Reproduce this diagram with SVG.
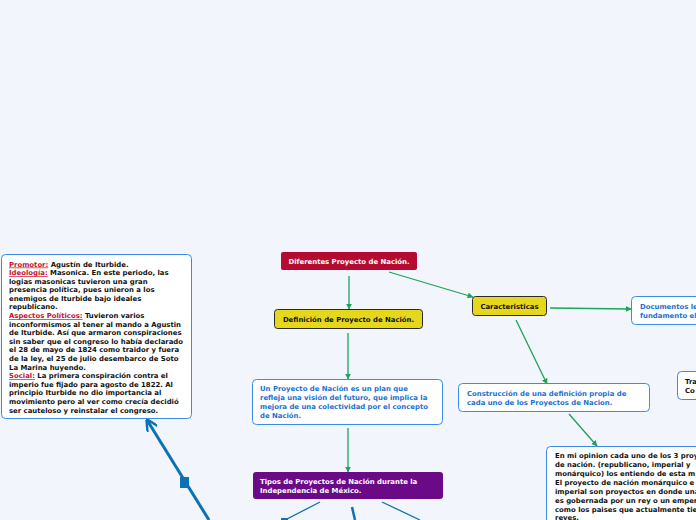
<svg xmlns="http://www.w3.org/2000/svg" width="696" height="520" viewBox="0 0 696 520">
<defs>
<style>
text{font-family:"DejaVu Sans","Verdana",sans-serif;font-weight:bold;font-size:6.9px}
.w{fill:#ffffff}
.k{fill:#111111}
.b{fill:#1c6fd2}
.r{fill:#c4122f;text-decoration:underline}
.box{fill:#ffffff;stroke:#3a8ce6;stroke-width:1}
.yel{fill:#e5d81c;stroke:#2a2a2a;stroke-width:1}
.g{stroke:#1ca45a;stroke-width:1.3;fill:none;marker-end:url(#ag)}
.bl{stroke:#0b72b5;fill:none}
</style>
<marker id="ag" viewBox="0 0 10 10" refX="9" refY="5" markerWidth="6" markerHeight="6" orient="auto" markerUnits="userSpaceOnUse"><path d="M0,0 L10,5 L0,10 Z" fill="#1ca45a"/></marker>
<marker id="ab" viewBox="0 0 10 10" refX="9" refY="5" markerWidth="4" markerHeight="4" orient="auto"><path d="M0,0 L10,5 L0,10" fill="none" stroke="#0b72b5" stroke-width="2"/></marker>
</defs>
<rect width="696" height="520" fill="#f3f5fd"/>
<g id="connectors">
<line class="g" x1="349" y1="276" x2="349" y2="309"/>
<line class="g" x1="389" y1="272" x2="473" y2="297"/>
<line class="g" x1="348" y1="333" x2="348" y2="379"/>
<line class="g" x1="550" y1="308" x2="631" y2="309"/>
<line class="g" x1="516" y1="320" x2="547" y2="384"/>
<line class="g" x1="348" y1="428" x2="348" y2="472"/>
<line class="g" x1="569" y1="414" x2="597" y2="446"/>
<line class="bl" x1="320" y1="502" x2="285" y2="520" stroke-width="1.3"/>
<rect x="281" y="518" width="7" height="4" fill="#0b72b5"/>
<line class="bl" x1="352" y1="507" x2="355" y2="520" stroke-width="2.5"/>
<line class="bl" x1="382" y1="502" x2="420" y2="520" stroke-width="1.3"/>
<line class="bl" x1="209" y1="520" x2="147" y2="420" stroke-width="3" marker-end="url(#ab)"/>
<rect x="180" y="477" width="9" height="11" fill="#0b72b5"/>
</g>
<g id="n-diferentes">
<rect x="281" y="252" width="136" height="18" rx="2" fill="#b30c30"/>
<text class="w" x="349" y="263.5" text-anchor="middle">Diferentes Proyecto de Nación.</text>
</g>
<g id="n-definicion">
<rect class="yel" x="274.5" y="309.5" width="148" height="19" rx="3"/>
<text class="k" x="348.5" y="321.5" text-anchor="middle">Definición de Proyecto de Nación.</text>
</g>
<g id="n-caracteristicas">
<rect class="yel" x="472.5" y="296.5" width="74" height="19" rx="3"/>
<text class="k" x="509.5" y="308.5" text-anchor="middle">Caracteristicas</text>
</g>
<g id="n-documentos">
<rect class="box" x="631.5" y="296.5" width="80" height="28" rx="4"/>
<text class="b" x="640" y="308.5">Documentos le</text>
<text class="b" x="640" y="317.5">fundamento el</text>
</g>
<g id="n-tra">
<rect class="box" x="677.5" y="371.5" width="40" height="28" rx="4"/>
<text class="k" x="685" y="383.5">Tra</text>
<text class="k" x="685" y="392.5">Co</text>
</g>
<g id="n-plan">
<rect class="box" x="252.5" y="379.5" width="190" height="45" rx="4"/>
<text class="b" x="260" y="391">Un Proyecto de Nación es un plan que</text>
<text class="b" x="260" y="400">refleja una visión del futuro, que implica la</text>
<text class="b" x="260" y="409">mejora de una colectividad por el concepto</text>
<text class="b" x="260" y="418">de Nación.</text>
</g>
<g id="n-construccion">
<rect class="box" x="458.5" y="383.5" width="191" height="28" rx="4"/>
<text class="b" x="467" y="395.5">Construcción de una definición propia de</text>
<text class="b" x="467" y="404.5">cada uno de los Proyectos de Nacion.</text>
</g>
<g id="n-opinion">
<rect class="box" x="546.5" y="446.5" width="170" height="90" rx="4"/>
<text class="k" x="555" y="458">En mi opinion cada uno de los 3 proy</text>
<text class="k" x="555" y="467">de nación. (republicano, imperial y</text>
<text class="k" x="555" y="476">monárquico) los entiendo de esta m</text>
<text class="k" x="555" y="485">El proyecto de nación monárquico e</text>
<text class="k" x="555" y="494">imperial son proyectos en donde una</text>
<text class="k" x="555" y="503">es gobernada por un rey o un emper</text>
<text class="k" x="555" y="512">como los paises que actualmente tie</text>
<text class="k" x="555" y="519.5">reyes.</text>
</g>
<g id="n-tipos">
<rect x="253" y="472" width="190" height="27" rx="3" fill="#6b0a87"/>
<text class="w" x="260" y="483.5">Tipos de Proyectos de Nación durante la</text>
<text class="w" x="260" y="492.5">Independencia de México.</text>
</g>
<g id="n-iturbide">
<rect class="box" x="1.5" y="254.5" width="190" height="164" rx="4"/>
<text x="9" y="266.5"><tspan class="r">Promotor:</tspan><tspan class="k"> Agustín de Iturbide.</tspan></text>
<text x="9" y="275"><tspan class="r">Ideología:</tspan><tspan class="k"> Masonica. En este periodo, las</tspan></text>
<text class="k" x="9" y="283.6">logias masonicas tuvieron una gran</text>
<text class="k" x="9" y="292.2">presencia política, pues unieron a los</text>
<text class="k" x="9" y="300.8">enemigos de Iturbide bajo ideales</text>
<text class="k" x="9" y="309.4">republicano.</text>
<text x="9" y="318"><tspan class="r">Aspectos Políticos:</tspan><tspan class="k"> Tuvieron varios</tspan></text>
<text class="k" x="9" y="326.6">inconformismos al tener al mando a Agustin</text>
<text class="k" x="9" y="335.2">de Iturbide. Así que armaron conspiraciones</text>
<text class="k" x="9" y="343.8">sin saber que el congreso lo había declarado</text>
<text class="k" x="9" y="352.4">el 28 de mayo de 1824 como traidor y fuera</text>
<text class="k" x="9" y="361">de la ley, el 25 de julio desembarco de Soto</text>
<text class="k" x="9" y="369.6">La Marina huyendo.</text>
<text x="9" y="378.2"><tspan class="r">Social:</tspan><tspan class="k"> La primera conspiración contra el</tspan></text>
<text class="k" x="9" y="386.8">imperio fue fijado para agosto de 1822. Al</text>
<text class="k" x="9" y="395.4">principio Iturbide no dio importancia al</text>
<text class="k" x="9" y="404">movimiento pero al ver como crecía decidió</text>
<text class="k" x="9" y="412.6">ser cauteloso y reinstalar el congreso.</text>
</g>
</svg>
